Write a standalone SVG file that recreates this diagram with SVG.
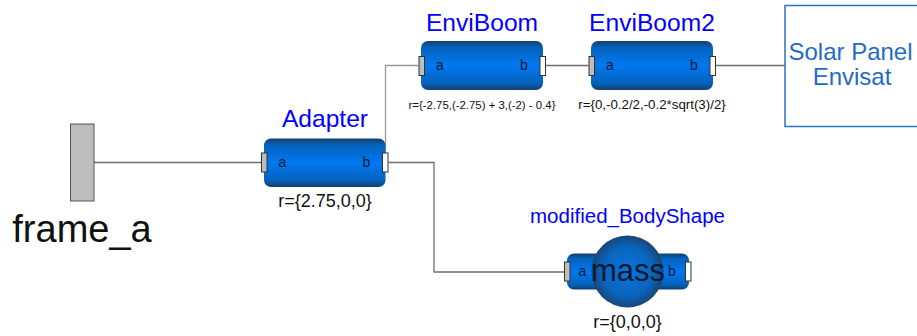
<svg xmlns="http://www.w3.org/2000/svg" width="917" height="336" viewBox="0 0 917 336">
<style>
text{font-family:"Liberation Sans",Arial,sans-serif}
.wire{fill:none;stroke:#6e6e6e;stroke-width:1.3}
.pa{fill:#bdbdbd;stroke:#333;stroke-width:1}
.pb{fill:#fff;stroke:#333;stroke-width:1}
.t{fill:#0000ff;text-anchor:middle}
.p{font-size:14px;fill:#0a1a30;text-anchor:middle}
.r{fill:#111;text-anchor:middle}
</style>
<defs>
<linearGradient id="g" x1="0" y1="0" x2="0" y2="1">
<stop offset="0" stop-color="#14406e"/><stop offset=".14" stop-color="#0462bc"/><stop offset=".5" stop-color="#0078f2"/><stop offset=".86" stop-color="#0462bc"/><stop offset="1" stop-color="#14406e"/>
</linearGradient>
<radialGradient id="s" cx=".5" cy=".5" r=".5">
<stop offset="0" stop-color="#0a74e0"/><stop offset=".7" stop-color="#0a64bc"/><stop offset="1" stop-color="#1a4477"/>
</radialGradient>
</defs>
<g id="connectors">
<path class="wire" d="M94 162.500H261"/>
<path class="wire" d="M388.500 162.500H434V272H564"/>
<path class="wire" style="stroke:#999" d="M385.500 153V65.500H418.500"/>
<path class="wire" d="M546 65.500H588.500"/>
<path class="wire" d="M715.500 65.500H785"/>
</g>
<g id="frame_a">
<rect x="70.500" y="124" width="23.500" height="77" fill="#bdbdbd" stroke="#555" stroke-width="1"/>
<text x="82" y="242" font-size="38" text-anchor="middle" fill="#111">frame_a</text>
</g>
<g id="Adapter">
<rect x="264" y="138.500" width="121.500" height="48.500" rx="7" fill="url(#g)"/>
<text class="t" x="325" y="127" font-size="24.600">Adapter</text>
<rect class="pa" x="261.500" y="153" width="5.500" height="19"/>
<rect class="pb" x="382.500" y="153" width="5.500" height="19"/>
<text class="p" x="282.500" y="167">a</text>
<text class="p" x="366.500" y="167">b</text>
<text class="r" x="325" y="207" font-size="18">r={2.75,0,0}</text>
</g>
<g id="EnviBoom">
<text class="t" x="482" y="31" font-size="24.600">EnviBoom</text>
<rect x="421" y="41" width="122" height="49" rx="7" fill="url(#g)"/>
<rect class="pa" x="419" y="56.500" width="5.500" height="19"/>
<rect class="pb" x="540" y="56.500" width="5.500" height="19"/>
<text class="p" x="440" y="70">a</text>
<text class="p" x="524" y="70">b</text>
<text class="r" x="482" y="109" font-size="11.400">r={-2.75,(-2.75) + 3,(-2) - 0.4}</text>
</g>
<g id="EnviBoom2">
<text class="t" x="652" y="31" font-size="24.600">EnviBoom2</text>
<rect x="591" y="41" width="122" height="49" rx="7" fill="url(#g)"/>
<rect class="pa" x="589" y="56.500" width="5.500" height="19"/>
<rect class="pb" x="710" y="56.500" width="5.500" height="19"/>
<text class="p" x="610" y="70">a</text>
<text class="p" x="694" y="70">b</text>
<text class="r" x="652" y="109" font-size="13.300">r={0,-0.2/2,-0.2*sqrt(3)/2}</text>
</g>
<g id="modified_BodyShape">
<text class="t" x="627.500" y="223" font-size="20.500">modified_BodyShape</text>
<rect x="567" y="253.500" width="122" height="36" rx="7" fill="url(#g)"/>
<circle cx="627.500" cy="271.500" r="36" fill="url(#s)"/>
<rect class="pa" x="564.500" y="262" width="5.500" height="19"/>
<rect class="pb" x="685.500" y="262" width="5.500" height="19"/>
<text class="p" x="582.500" y="276">a</text>
<text class="p" x="672" y="276">b</text>
<text x="628" y="281" font-size="31" text-anchor="middle" fill="#0a1a30">mass</text>
<text class="r" x="627.500" y="328" font-size="18">r={0,0,0}</text>
</g>
<g id="SolarPanel">
<rect x="785" y="5.500" width="140" height="121" fill="#fff" stroke="#2a72c4" stroke-width="1.500"/>
<text x="850.500" y="60" font-size="24" text-anchor="middle" fill="#1f6cc8">Solar Panel</text>
<text x="852" y="85" font-size="24" text-anchor="middle" fill="#1f6cc8">Envisat</text>
</g>
</svg>
